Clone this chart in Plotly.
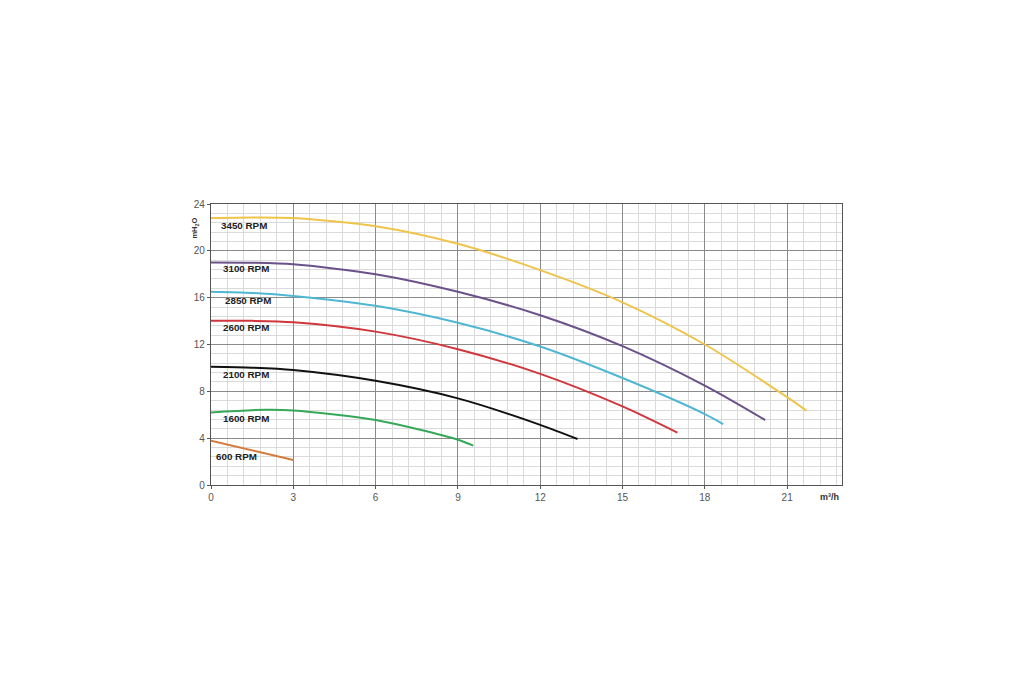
import plotly.graph_objects as go

# Data (flow m3/h, head mH2O)
x_3450 = [0, 1.5, 3, 6, 9, 12, 15, 18, 21, 21.7]
y_3450 = [22.8, 22.85, 22.8, 22.1, 20.6, 18.35, 15.6, 12.0, 7.5, 6.35]
x_3100 = [0, 1.5, 3, 6, 9, 12, 15, 18, 20.2]
y_3100 = [19.0, 18.98, 18.85, 18.0, 16.5, 14.5, 11.86, 8.49, 5.55]
x_2850 = [0, 1.5, 3, 6, 9, 12, 15, 18, 18.67]
y_2850 = [16.5, 16.4, 16.15, 15.3, 13.85, 11.83, 9.14, 6.06, 5.2]
x_2600 = [0, 1.5, 3, 6, 9, 12, 15, 17.0]
y_2600 = [14.03, 14.02, 13.9, 13.1, 11.6, 9.49, 6.71, 4.47]
x_2100 = [0, 1.5, 3, 6, 9, 12, 13.36]
y_2100 = [10.1, 10.02, 9.82, 8.9, 7.4, 5.14, 3.93]
x_1600 = [0, 2, 3, 6, 9, 9.56]
y_1600 = [6.2, 6.43, 6.37, 5.55, 3.87, 3.36]
x_600 = [0, 3]
y_600 = [3.78, 2.13]

labels = ["3450 RPM", "3100 RPM", "2850 RPM", "2600 RPM", "2100 RPM", "1600 RPM", "600 RPM"]
label_x = [0.3, 0.35, 0.42, 0.35, 0.35, 0.38, 0.12]
label_y = [22.2, 18.45, 15.75, 13.45, 9.45, 5.7, 2.45]

colors = ["#efc44a", "#6b5189", "#4fb6d3", "#d1363c", "#111111", "#35a85a", "#d47a3a"]
series = [(x_3450, y_3450), (x_3100, y_3100), (x_2850, y_2850), (x_2600, y_2600),
          (x_2100, y_2100), (x_1600, y_1600), (x_600, y_600)]

fig = go.Figure()
for (xs, ys), c, name in zip(series, colors, labels):
    fig.add_trace(go.Scatter(x=xs, y=ys, mode="lines", name=name,
                             line=dict(color=c, width=2, shape="spline", smoothing=0.8),
                             showlegend=False, hoverinfo="skip"))

for t, lx, ly in zip(labels, label_x, label_y):
    fig.add_annotation(x=lx, y=ly, text="<b>" + t + "</b>", showarrow=False,
                       xanchor="left", yanchor="middle",
                       font=dict(family="Liberation Sans, Arial", size=9.8, color="#222"))

fig.add_annotation(x=0, y=21.9, xref="x", yref="y", text="<b>mH<sub>2</sub>O</b>",
                   textangle=-90, showarrow=False, xshift=-16,
                   font=dict(family="Liberation Sans, Arial", size=7.5, color="#333"))
fig.add_annotation(x=1, y=0, xref="paper", yref="paper", text="<b>m³/h</b>",
                   showarrow=False, xanchor="right", yanchor="middle", yshift=-12, xshift=-1,
                   font=dict(family="Liberation Sans, Arial", size=9, color="#333"))

axis_common = dict(showline=True, linecolor="#555", linewidth=1.2, mirror=True,
                   gridcolor="#8a8a8a", gridwidth=1.2, zeroline=False,
                   ticks="outside", ticklen=3, tickcolor="#555",
                   tickfont=dict(family="Liberation Sans, Arial", size=10, color="#555"))

fig.update_xaxes(range=[0, 23], tick0=0, dtick=3, tickvals=[0, 3, 6, 9, 12, 15, 18, 21],
                 minor=dict(dtick=0.6, tick0=0, showgrid=True, gridcolor="#dadada", gridwidth=1),
                 **axis_common)
fig.update_yaxes(range=[0, 24], tick0=0, dtick=4,
                 minor=dict(dtick=0.8, tick0=0, showgrid=True, gridcolor="#dadada", gridwidth=1),
                 **axis_common)

fig.update_layout(width=1035, height=700, plot_bgcolor="white", paper_bgcolor="white",
                  margin=dict(l=203, r=201, t=196, b=223))

fig.write_html("out.html")
